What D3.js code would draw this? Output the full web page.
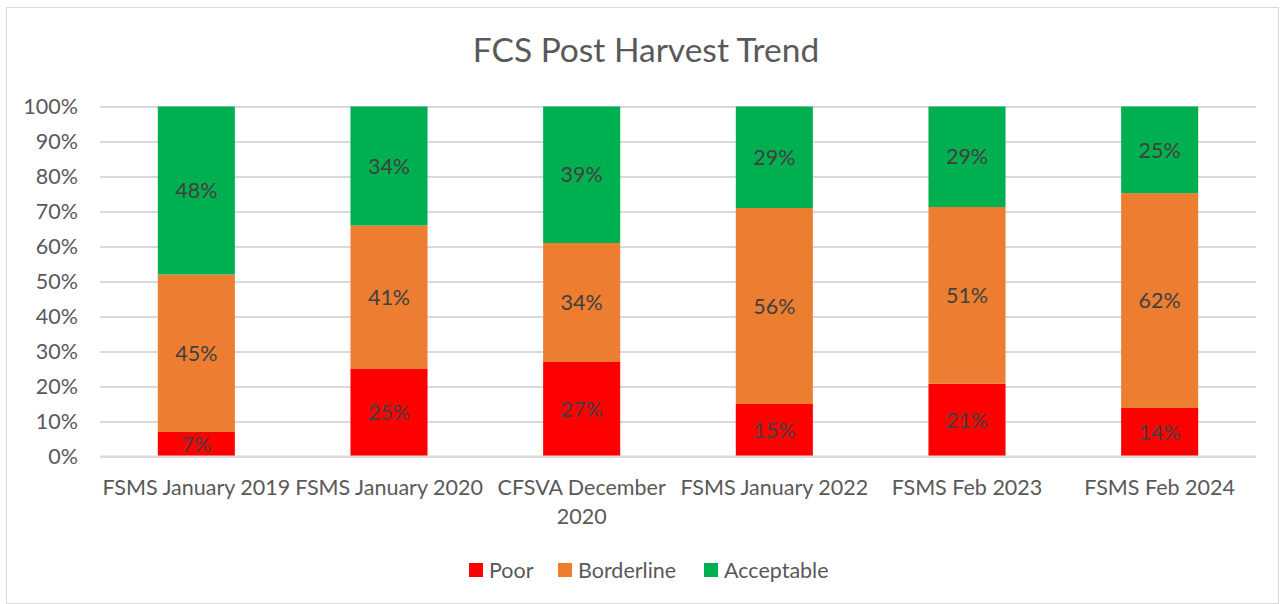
<!DOCTYPE html>
<html><head><meta charset="utf-8">
<script src="https://cdn.jsdelivr.net/npm/d3@7"></script>
<style>body{margin:0;background:#fff;}svg{display:block;}text{font-family:Lato,"Open Sans",sans-serif;}</style>
</head><body>
<svg id="c" width="1283" height="604"></svg>
<script>
const categories = ["FSMS January 2019","FSMS January 2020","CFSVA December 2020","FSMS January 2022","FSMS Feb 2023","FSMS Feb 2024"];
const seriesNames = ["Poor","Borderline","Acceptable"];
const poor = [7,25,27,15,21,14];
const borderline = [45,41,34,56,51,62];
const acceptable = [48,34,39,29,29,25];
const yTicks = [0,0.1,0.2,0.3,0.4,0.5,0.6,0.7,0.8,0.9,1];
const colors = ["#FF0000","#ED7D31","#00B050"];

const rows = categories.map((c,i)=>({cat:c,Poor:poor[i],Borderline:borderline[i],Acceptable:acceptable[i]}));
const stack = d3.stack().keys(seriesNames).offset(d3.stackOffsetExpand)(rows);

const FS = 21.5;
const svg = d3.select("#c");
svg.append("rect").attr("x",6.5).attr("y",7.5).attr("width",1272).attr("height",596).attr("fill","#fff").attr("stroke","#d9d9d9").attr("stroke-width",1);

const m = {l:100,r:1256,t:106.5,b:456.5};
const x = d3.scaleBand().domain(categories).range([m.l,m.r]).paddingInner(0.6).paddingOuter(0.3);
const y = d3.scaleLinear().domain([0,1]).range([m.b,m.t]);

svg.append("text").attr("x",646).attr("y",62).attr("text-anchor","middle").attr("font-size",33.5).attr("fill","#595959").text("FCS Post Harvest Trend");

// grid
const yAxis = d3.axisLeft(y).tickValues(yTicks).tickFormat(d3.format(".0%")).tickSize(-(m.r-m.l)).tickPadding(22);
const ga = svg.append("g").attr("transform",`translate(${m.l},0)`).call(yAxis);
ga.select(".domain").remove();
ga.selectAll(".tick line").attr("stroke","#d9d9d9").attr("stroke-width",2);
ga.selectAll(".tick text").attr("fill","#595959").attr("font-size",FS).style("font-family","Lato");

// bars
const groups = svg.append("g").selectAll("g").data(stack).join("g").attr("fill",(d,i)=>colors[i]);
groups.selectAll("rect").data(d=>d.map(v=>({v,key:d.key}))).join("rect")
  .attr("x",d=>x(d.v.data.cat)).attr("width",x.bandwidth())
  .attr("y",d=>y(d.v[1])).attr("height",d=>y(d.v[0])-y(d.v[1]));
groups.selectAll("text").data(d=>d.map(v=>({v,key:d.key}))).join("text")
  .attr("x",d=>x(d.v.data.cat)+x.bandwidth()/2)
  .attr("y",d=>(y(d.v[0])+y(d.v[1]))/2).attr("dy","0.36em")
  .attr("text-anchor","middle").attr("font-size",FS).attr("fill","#404040")
  .text(d=>d.v.data[d.key]+"%");

// x axis baseline
svg.append("line").attr("x1",m.l).attr("x2",m.r).attr("y1",y(0)).attr("y2",y(0)).attr("stroke","#d9d9d9").attr("stroke-width",2);

// x labels with wrapping
const step = x.step();
const xl = svg.append("g");
categories.forEach(c=>{
  const cx = x(c)+x.bandwidth()/2;
  const t = xl.append("text").attr("x",cx).attr("y",495).attr("text-anchor","middle").attr("font-size",FS).attr("fill","#595959");
  const words = c.split(" ");
  let line=[];
  let ts = t.append("tspan").attr("x",cx);
  for(const w of words){
    line.push(w); ts.text(line.join(" "));
    if(ts.node().getComputedTextLength()>step-2 && line.length>1){
      line.pop(); ts.text(line.join(" "));
      line=[w];
      ts = t.append("tspan").attr("x",cx).attr("dy","1.35em").text(w);
    }
  }
});

// legend
const leg = svg.append("g");
const legX = [469,558,704];
seriesNames.forEach((s,i)=>{
  leg.append("rect").attr("x",legX[i]).attr("y",563).attr("width",14).attr("height",14).attr("fill",colors[i]);
  leg.append("text").attr("x",legX[i]+20).attr("y",577.5).attr("font-size",FS).attr("fill","#595959").text(s);
});
</script>
</body></html>
